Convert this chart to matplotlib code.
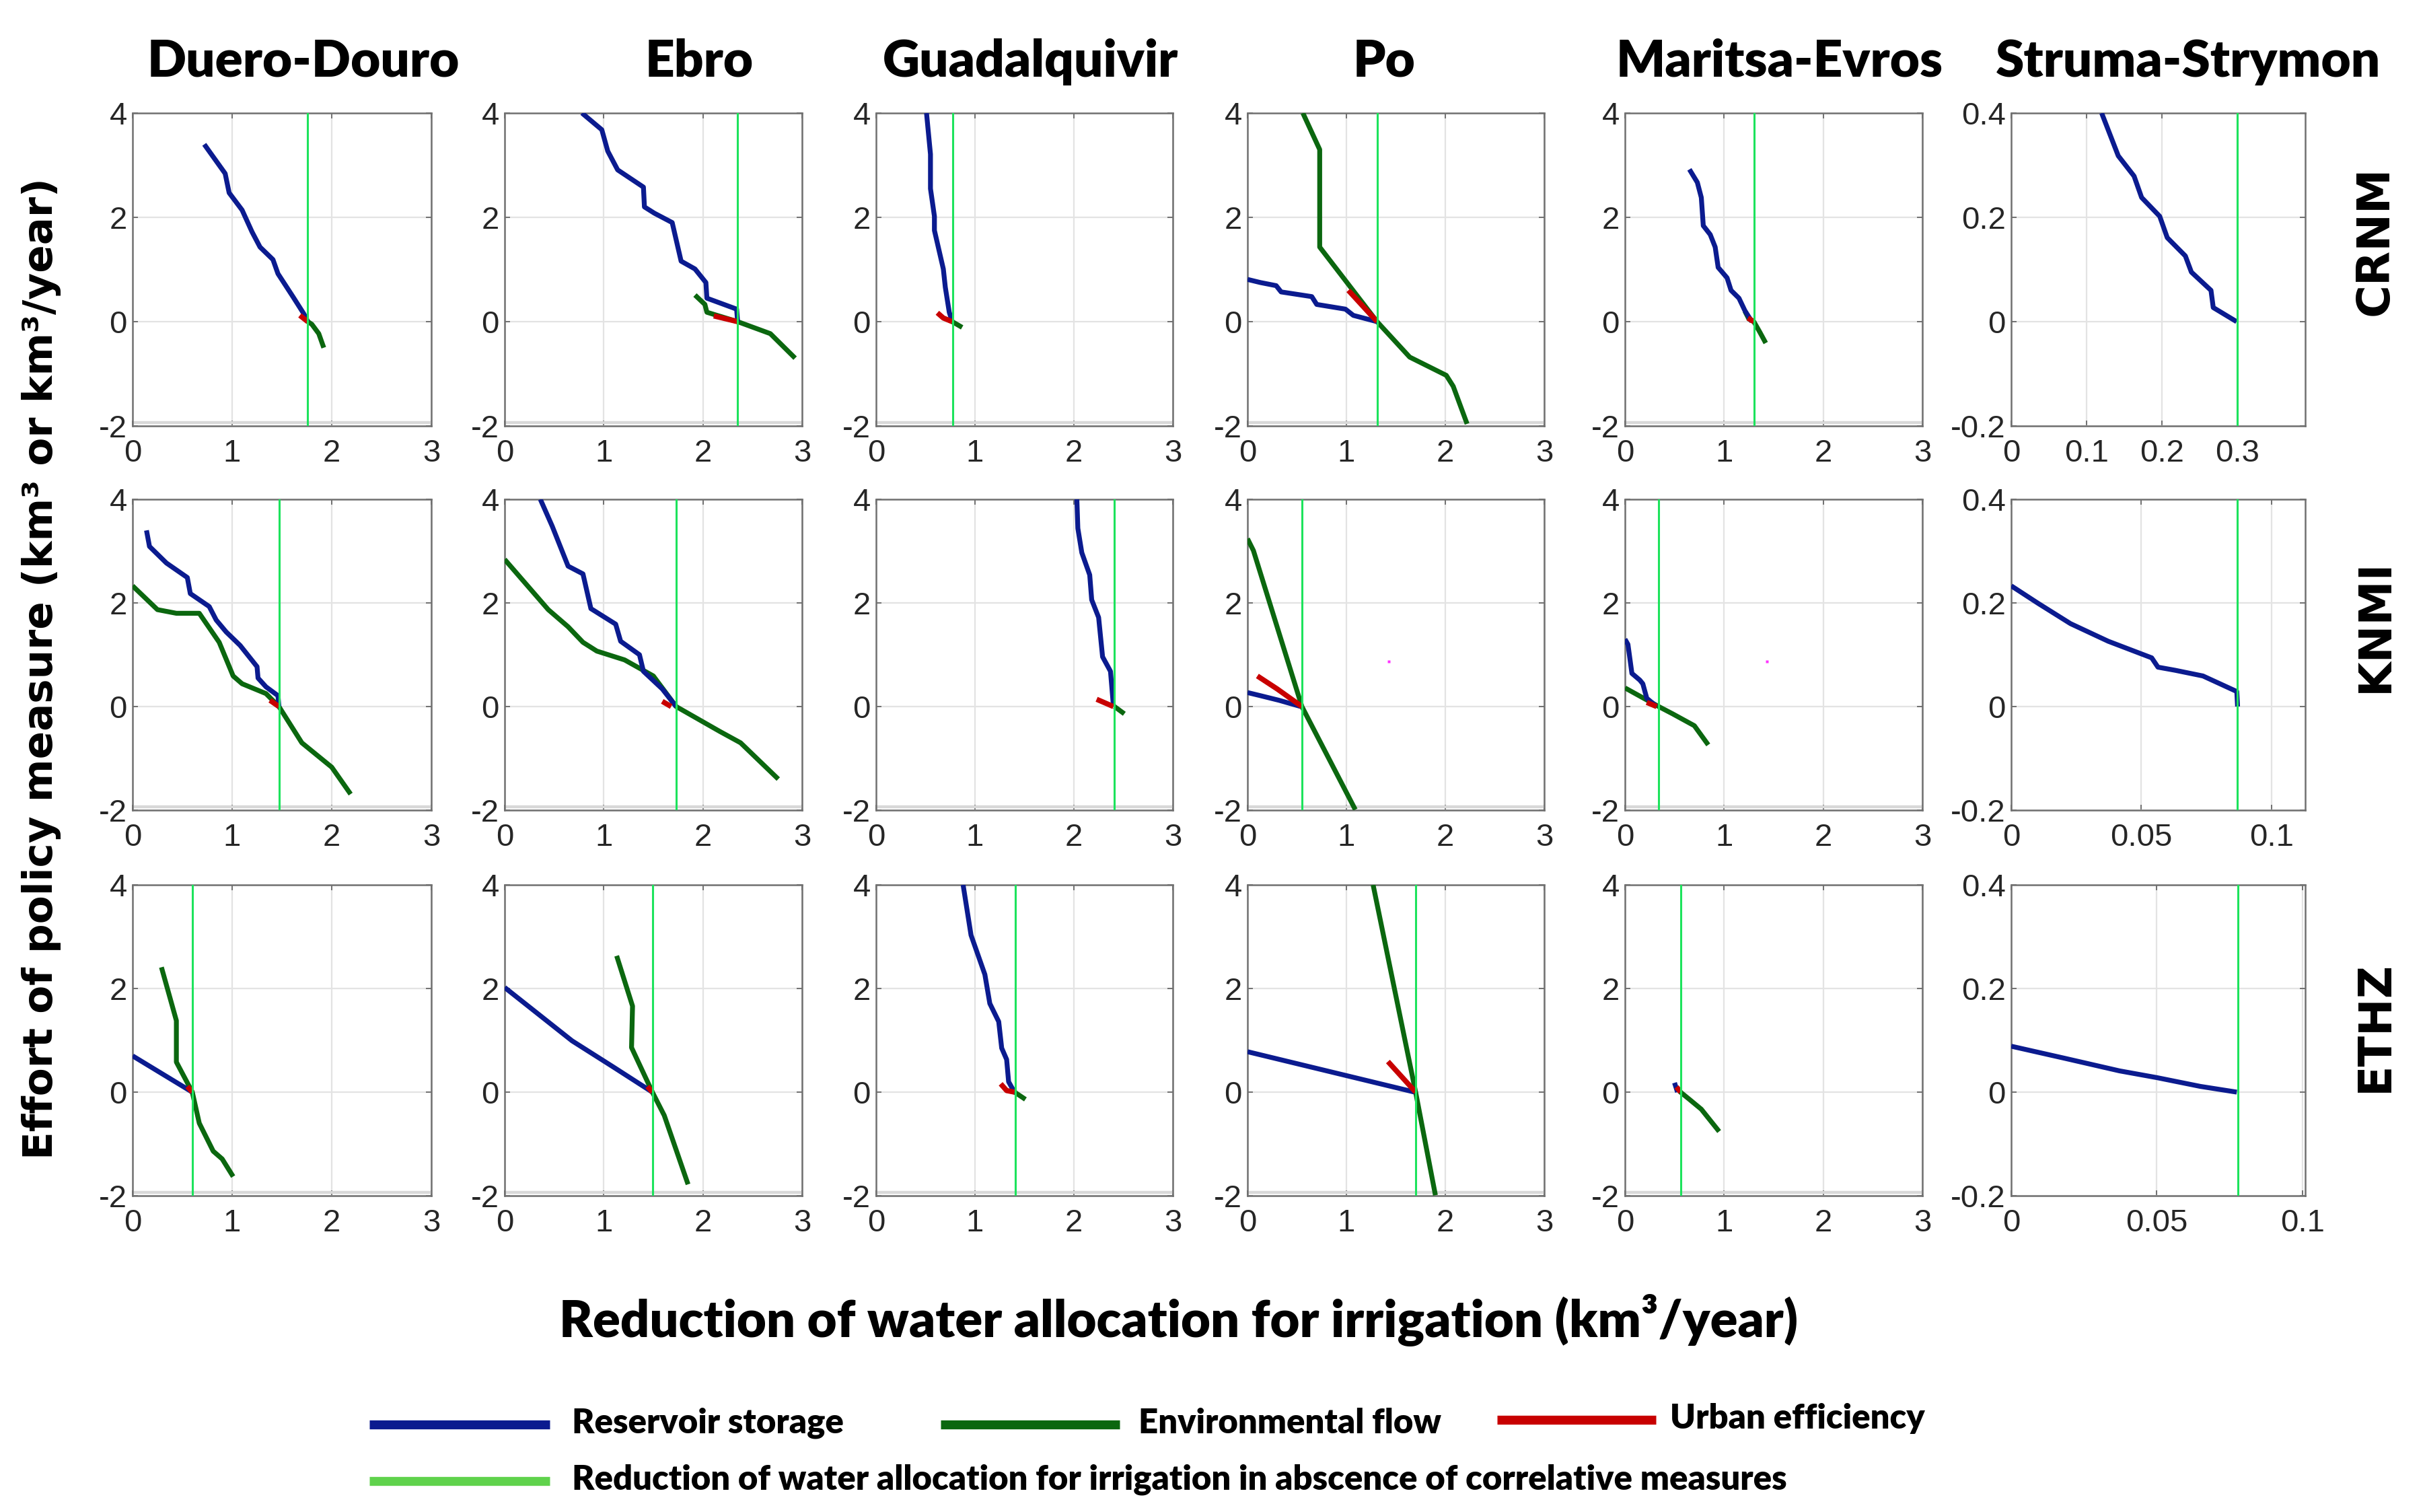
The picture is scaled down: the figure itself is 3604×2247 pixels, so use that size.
import matplotlib
matplotlib.use("Agg")
import matplotlib.pyplot as plt
from matplotlib.lines import Line2D

plt.rcParams['axes.unicode_minus'] = False

# ---------------- DATA ----------------
basins = ["Duero-Douro", "Ebro", "Guadalquivir", "Po", "Maritsa-Evros", "Struma-Strymon"]
models = ["CRNM", "KNMI", "ETHZ"]

# thresholds (reduction without correlative measures)
thr_crnm = [1.76, 2.35, 0.776, 1.31, 1.30, 0.30]
thr_knmi = [1.47, 1.73, 2.41, 0.55, 0.34, 0.087]
thr_ethz = [0.60, 1.49, 1.41, 1.70, 0.56, 0.078]

# ---- CRNM ----
duero_crnm_res_x = [0.72, 0.93, 0.97, 1.10, 1.20, 1.28, 1.41, 1.46, 1.61, 1.72, 1.76]
duero_crnm_res_y = [3.40, 2.84, 2.47, 2.14, 1.72, 1.43, 1.19, 0.92, 0.48, 0.15, 0.0]
duero_crnm_env_x = [1.72, 1.76, 1.80, 1.87, 1.92]
duero_crnm_env_y = [0.12, 0.0, -0.05, -0.23, -0.50]
duero_crnm_urb_x = [1.68, 1.76]
duero_crnm_urb_y = [0.12, 0.0]

ebro_crnm_res_x = [0.78, 0.98, 1.04, 1.14, 1.40, 1.41, 1.51, 1.69, 1.78, 1.92, 2.03, 2.04, 2.34, 2.35]
ebro_crnm_res_y = [4.0, 3.68, 3.27, 2.91, 2.58, 2.20, 2.08, 1.90, 1.16, 1.01, 0.75, 0.45, 0.24, 0.0]
ebro_crnm_env_x = [1.92, 2.02, 2.04, 2.35, 2.68, 2.93]
ebro_crnm_env_y = [0.51, 0.33, 0.18, 0.0, -0.23, -0.70]
ebro_crnm_urb_x = [2.11, 2.35]
ebro_crnm_urb_y = [0.11, 0.0]

guad_crnm_res_x = [0.51, 0.55, 0.55, 0.59, 0.59, 0.68, 0.70, 0.74, 0.77]
guad_crnm_res_y = [4.0, 3.21, 2.55, 2.02, 1.75, 1.01, 0.66, 0.18, 0.0]
guad_crnm_env_x = [0.77, 0.87]
guad_crnm_env_y = [0.0, -0.11]
guad_crnm_urb_x = [0.62, 0.68, 0.77]
guad_crnm_urb_y = [0.17, 0.07, 0.0]

po_crnm_res_x = [0.0, 0.13, 0.29, 0.34, 0.65, 0.70, 0.99, 1.07, 1.31]
po_crnm_res_y = [0.81, 0.75, 0.69, 0.57, 0.48, 0.33, 0.24, 0.12, 0.0]
po_crnm_env_x = [0.56, 0.73, 0.73, 1.31, 1.64, 2.01, 2.08, 2.22]
po_crnm_env_y = [4.0, 3.30, 1.43, 0.0, -0.68, -1.03, -1.24, -1.96]
po_crnm_urb_x = [1.02, 1.31]
po_crnm_urb_y = [0.60, 0.0]

mar_crnm_res_x = [0.65, 0.73, 0.77, 0.79, 0.86, 0.91, 0.94, 1.03, 1.07, 1.15, 1.21, 1.28]
mar_crnm_res_y = [2.92, 2.67, 2.38, 1.84, 1.67, 1.43, 1.04, 0.84, 0.60, 0.45, 0.21, 0.0]
mar_crnm_env_x = [1.21, 1.25, 1.30, 1.36, 1.42]
mar_crnm_env_y = [0.20, 0.05, 0.0, -0.20, -0.41]
mar_crnm_urb_x = [1.24, 1.30]
mar_crnm_urb_y = [0.07, 0.0]

str_crnm_res_x = [0.120, 0.142, 0.163, 0.173, 0.197, 0.207, 0.231, 0.239, 0.265, 0.268, 0.299]
str_crnm_res_y = [0.40, 0.318, 0.279, 0.238, 0.202, 0.161, 0.126, 0.095, 0.060, 0.027, 0.0]

# ---- KNMI ----
duero_knmi_res_x = [0.14, 0.17, 0.34, 0.55, 0.58, 0.77, 0.84, 0.94, 1.08, 1.25, 1.26, 1.34, 1.46, 1.47]
duero_knmi_res_y = [3.40, 3.09, 2.77, 2.49, 2.18, 1.93, 1.67, 1.44, 1.18, 0.77, 0.55, 0.38, 0.21, 0.0]
duero_knmi_env_x = [0.0, 0.25, 0.44, 0.67, 0.87, 1.01, 1.10, 1.34, 1.47, 1.70, 2.00, 2.19]
duero_knmi_env_y = [2.33, 1.87, 1.80, 1.80, 1.24, 0.59, 0.44, 0.25, 0.0, -0.70, -1.17, -1.69]
duero_knmi_urb_x = [1.38, 1.47]
duero_knmi_urb_y = [0.12, 0.0]

ebro_knmi_res_x = [0.36, 0.48, 0.64, 0.79, 0.87, 1.12, 1.17, 1.36, 1.40, 1.59, 1.73]
ebro_knmi_res_y = [4.0, 3.48, 2.71, 2.56, 1.89, 1.59, 1.26, 1.00, 0.68, 0.34, 0.0]
ebro_knmi_env_x = [0.0, 0.44, 0.64, 0.79, 0.93, 1.21, 1.50, 1.73, 2.17, 2.38, 2.76]
ebro_knmi_env_y = [2.84, 1.87, 1.54, 1.24, 1.07, 0.90, 0.59, 0.0, -0.48, -0.70, -1.40]
ebro_knmi_urb_x = [1.59, 1.68]
ebro_knmi_urb_y = [0.10, 0.0]

guad_knmi_res_x = [2.03, 2.04, 2.08, 2.16, 2.18, 2.25, 2.29, 2.37, 2.40]
guad_knmi_res_y = [4.0, 3.44, 2.97, 2.54, 2.06, 1.72, 0.96, 0.68, 0.0]
guad_knmi_env_x = [2.41, 2.51]
guad_knmi_env_y = [0.0, -0.14]
guad_knmi_urb_x = [2.23, 2.40]
guad_knmi_urb_y = [0.14, 0.0]

po_knmi_res_x = [0.0, 0.13, 0.32, 0.54]
po_knmi_res_y = [0.27, 0.21, 0.12, 0.0]
po_knmi_env_x = [0.0, 0.06, 0.55, 1.09]
po_knmi_env_y = [3.24, 3.01, 0.0, -1.99]
po_knmi_urb_x = [0.10, 0.30, 0.55]
po_knmi_urb_y = [0.59, 0.34, 0.0]

mar_knmi_res_x = [0.0, 0.03, 0.07, 0.15, 0.18, 0.22, 0.32]
mar_knmi_res_y = [1.30, 1.20, 0.64, 0.51, 0.44, 0.16, 0.0]
mar_knmi_env_x = [0.0, 0.34, 0.48, 0.70, 0.84]
mar_knmi_env_y = [0.36, 0.0, -0.14, -0.37, -0.74]
mar_knmi_urb_x = [0.22, 0.32]
mar_knmi_urb_y = [0.08, 0.0]

str_knmi_res_x = [0.0, 0.0104, 0.0228, 0.0373, 0.054, 0.0564, 0.063, 0.0737, 0.0867, 0.087]
str_knmi_res_y = [0.233, 0.199, 0.160, 0.126, 0.094, 0.076, 0.070, 0.059, 0.029, 0.0]

# stray magenta points (Po and Maritsa, KNMI)
stray_x = [1.43]
stray_y = [0.87]

# ---- ETHZ ----
duero_ethz_res_x = [0.0, 0.60]
duero_ethz_res_y = [0.70, 0.0]
duero_ethz_env_x = [0.29, 0.44, 0.44, 0.60, 0.67, 0.81, 0.90, 1.01]
duero_ethz_env_y = [2.41, 1.38, 0.58, 0.0, -0.60, -1.14, -1.29, -1.63]
duero_ethz_urb_x = [0.55, 0.60]
duero_ethz_urb_y = [0.11, 0.0]

ebro_ethz_res_x = [0.0, 0.68, 1.10, 1.49]
ebro_ethz_res_y = [2.02, 0.99, 0.48, 0.0]
ebro_ethz_env_x = [1.13, 1.29, 1.28, 1.49, 1.61, 1.85]
ebro_ethz_env_y = [2.63, 1.66, 0.86, 0.0, -0.45, -1.78]
ebro_ethz_urb_x = [1.44, 1.49]
ebro_ethz_urb_y = [0.11, 0.0]

guad_ethz_res_x = [0.88, 0.96, 1.10, 1.15, 1.24, 1.27, 1.32, 1.34, 1.39, 1.41]
guad_ethz_res_y = [4.0, 3.03, 2.27, 1.71, 1.36, 0.85, 0.63, 0.20, 0.03, 0.0]
guad_ethz_env_x = [1.40, 1.51]
guad_ethz_env_y = [0.0, -0.14]
guad_ethz_urb_x = [1.26, 1.32, 1.40]
guad_ethz_urb_y = [0.16, 0.03, 0.0]

po_ethz_res_x = [0.0, 1.69]
po_ethz_res_y = [0.78, 0.0]
po_ethz_env_x = [1.27, 1.70, 1.90]
po_ethz_env_y = [4.0, 0.0, -1.99]
po_ethz_urb_x = [1.42, 1.70]
po_ethz_urb_y = [0.59, 0.0]

mar_ethz_res_x = [0.50, 0.53]
mar_ethz_res_y = [0.18, 0.0]
mar_ethz_env_x = [0.54, 0.56, 0.65, 0.77, 0.95]
mar_ethz_env_y = [0.05, 0.0, -0.14, -0.33, -0.76]
mar_ethz_urb_x = [0.52, 0.56]
mar_ethz_urb_y = [0.10, 0.0]

str_ethz_res_x = [0.0, 0.0186, 0.0372, 0.05, 0.065, 0.0775]
str_ethz_res_y = [0.0886, 0.065, 0.041, 0.028, 0.011, 0.0]

# axis ticks
big_xticks = [0, 1, 2, 3]
big_xticklabels = ["0", "1", "2", "3"]
big_yticks = [-2, 0, 2, 4]
big_yticklabels = ["-2", "0", "2", "4"]
small_yticks = [-0.2, 0, 0.2, 0.4]
small_yticklabels = ["-0.2", "0", "0.2", "0.4"]
str_crnm_xticks = [0, 0.1, 0.2, 0.3]
str_crnm_xticklabels = ["0", "0.1", "0.2", "0.3"]
str_other_xticks = [0, 0.05, 0.1]
str_other_xticklabels = ["0", "0.05", "0.1"]
str_xmax = [0.39, 0.113, 0.101]

legend_labels = ["Reservoir storage", "Environmental flow", "Urban efficiency",
                 "Reduction of water allocation for irrigation in abscence of correlative measures"]

# ---------------- ASSEMBLY ----------------
panels = {
    ("CRNM", 0): ((duero_crnm_res_x, duero_crnm_res_y), (duero_crnm_env_x, duero_crnm_env_y), (duero_crnm_urb_x, duero_crnm_urb_y)),
    ("CRNM", 1): ((ebro_crnm_res_x, ebro_crnm_res_y), (ebro_crnm_env_x, ebro_crnm_env_y), (ebro_crnm_urb_x, ebro_crnm_urb_y)),
    ("CRNM", 2): ((guad_crnm_res_x, guad_crnm_res_y), (guad_crnm_env_x, guad_crnm_env_y), (guad_crnm_urb_x, guad_crnm_urb_y)),
    ("CRNM", 3): ((po_crnm_res_x, po_crnm_res_y), (po_crnm_env_x, po_crnm_env_y), (po_crnm_urb_x, po_crnm_urb_y)),
    ("CRNM", 4): ((mar_crnm_res_x, mar_crnm_res_y), (mar_crnm_env_x, mar_crnm_env_y), (mar_crnm_urb_x, mar_crnm_urb_y)),
    ("CRNM", 5): ((str_crnm_res_x, str_crnm_res_y), None, None),
    ("KNMI", 0): ((duero_knmi_res_x, duero_knmi_res_y), (duero_knmi_env_x, duero_knmi_env_y), (duero_knmi_urb_x, duero_knmi_urb_y)),
    ("KNMI", 1): ((ebro_knmi_res_x, ebro_knmi_res_y), (ebro_knmi_env_x, ebro_knmi_env_y), (ebro_knmi_urb_x, ebro_knmi_urb_y)),
    ("KNMI", 2): ((guad_knmi_res_x, guad_knmi_res_y), (guad_knmi_env_x, guad_knmi_env_y), (guad_knmi_urb_x, guad_knmi_urb_y)),
    ("KNMI", 3): ((po_knmi_res_x, po_knmi_res_y), (po_knmi_env_x, po_knmi_env_y), (po_knmi_urb_x, po_knmi_urb_y)),
    ("KNMI", 4): ((mar_knmi_res_x, mar_knmi_res_y), (mar_knmi_env_x, mar_knmi_env_y), (mar_knmi_urb_x, mar_knmi_urb_y)),
    ("KNMI", 5): ((str_knmi_res_x, str_knmi_res_y), None, None),
    ("ETHZ", 0): ((duero_ethz_res_x, duero_ethz_res_y), (duero_ethz_env_x, duero_ethz_env_y), (duero_ethz_urb_x, duero_ethz_urb_y)),
    ("ETHZ", 1): ((ebro_ethz_res_x, ebro_ethz_res_y), (ebro_ethz_env_x, ebro_ethz_env_y), (ebro_ethz_urb_x, ebro_ethz_urb_y)),
    ("ETHZ", 2): ((guad_ethz_res_x, guad_ethz_res_y), (guad_ethz_env_x, guad_ethz_env_y), (guad_ethz_urb_x, guad_ethz_urb_y)),
    ("ETHZ", 3): ((po_ethz_res_x, po_ethz_res_y), (po_ethz_env_x, po_ethz_env_y), (po_ethz_urb_x, po_ethz_urb_y)),
    ("ETHZ", 4): ((mar_ethz_res_x, mar_ethz_res_y), (mar_ethz_env_x, mar_ethz_env_y), (mar_ethz_urb_x, mar_ethz_urb_y)),
    ("ETHZ", 5): ((str_ethz_res_x, str_ethz_res_y), None, None),
}
thresholds = {"CRNM": thr_crnm, "KNMI": thr_knmi, "ETHZ": thr_ethz}

# ---------------- STYLE ----------------
C_RES = "#0b1b8f"
C_ENV = "#0b670f"
C_URB = "#c80000"
C_THR = "#1de35c"
C_THR_LEG = "#5fd24c"
TICK_FONT = ["Liberation Sans Narrow", "Liberation Sans", "DejaVu Sans"]
HEAD_FONT = ["Lato", "DejaVu Sans"]

W, H = 3605, 2247
fig = plt.figure(figsize=(W / 200, H / 200), dpi=200)

col_left = [197, 750, 1302, 1854, 2415, 2989]
col_width = [444, 442, 441, 441, 442, 437]
row_top = [168, 742, 1315]
row_bot = [633, 1204, 1777]

for r, model in enumerate(models):
    for c in range(6):
        ax = fig.add_axes([col_left[c] / W, 1 - row_bot[r] / H,
                           col_width[c] / W, (row_bot[r] - row_top[r]) / H])
        res, env, urb = panels[(model, c)]
        thr = thresholds[model][c]
        if c < 5:
            ax.axhline(-1.93, color="#d8d8d8", lw=1.6, zorder=1)
        if env is not None:
            ax.plot(env[0], env[1], color=C_ENV, lw=2.6, zorder=3, solid_capstyle="butt")
        ax.plot(res[0], res[1], color=C_RES, lw=2.6, zorder=4, solid_capstyle="butt")
        if urb is not None:
            ax.plot(urb[0], urb[1], color=C_URB, lw=2.8, zorder=5, solid_capstyle="butt")
        ax.axvline(thr, color=C_THR, lw=1.1, zorder=6)
        if model == "KNMI" and c in (3, 4):
            ax.plot(stray_x, stray_y, ls="none", marker="s", ms=1.2, color="#ff33ff", mec="none", zorder=6)

        if c < 5:
            ax.set_xlim(0, 3)
            ax.set_ylim(-2, 4)
            ax.set_xticks(big_xticks)
            ax.set_xticklabels(big_xticklabels)
            ax.set_yticks(big_yticks)
            ax.set_yticklabels(big_yticklabels)
        else:
            ax.set_xlim(0, str_xmax[r])
            ax.set_ylim(-0.2, 0.4)
            if r == 0:
                ax.set_xticks(str_crnm_xticks)
                ax.set_xticklabels(str_crnm_xticklabels)
            else:
                ax.set_xticks(str_other_xticks)
                ax.set_xticklabels(str_other_xticklabels)
            ax.set_yticks(small_yticks)
            ax.set_yticklabels(small_yticklabels)

        ax.grid(True, color="#e3e3e3", lw=0.8, zorder=0)
        ax.set_axisbelow(True)
        for s in ax.spines.values():
            s.set_color("#707070")
            s.set_linewidth(0.9)
        ax.tick_params(axis="both", direction="in", length=3, width=0.7, color="#707070",
                       top=True, right=True, labelcolor="#262626", labelsize=17)
        ax.tick_params(axis="x", pad=7)
        ax.tick_params(axis="y", pad=3)
        for lab in ax.get_xticklabels() + ax.get_yticklabels():
            lab.set_family(TICK_FONT)

# column titles
title_x = [451, 1039, 1531, 2057, 2645, 3252]
for name, tx in zip(basins, title_x):
    fig.text(tx / W, 1 - 92 / H, name, ha="center", va="center", fontsize=27.5,
             fontweight="heavy", family=HEAD_FONT)

# row labels
row_label_y = [358, 930, 1525]
for name, ty in zip(models, row_label_y):
    fig.text(3530 / W, 1 - ty / H, name, ha="center", va="center", rotation=90,
             fontsize=24, fontweight="bold", family=["DejaVu Sans"])

# axis labels
fig.text(62 / W, 1 - 994 / H, "Effort of policy measure (km³ or km³/year)",
         ha="center", va="center", rotation=90, fontsize=22, fontweight="bold",
         family=["DejaVu Sans"])
fig.text(1752 / W, 1 - 1962 / H, "Reduction of water allocation for irrigation (km³/year)",
         ha="center", va="center", fontsize=27.3, fontweight="heavy", family=HEAD_FONT)

# legend
leg_items = [
    (549, 817, 2117, C_RES, 850, legend_labels[0]),
    (1398, 1664, 2117, C_ENV, 1692, legend_labels[1]),
    (2225, 2461, 2110, C_URB, 2482, legend_labels[2]),
    (549, 817, 2201, C_THR_LEG, 850, legend_labels[3]),
]
for x0, x1, yy, col, tx, lab in leg_items:
    fig.add_artist(Line2D([x0 / W, x1 / W], [1 - yy / H, 1 - yy / H], transform=fig.transFigure,
                          color=col, lw=4.8, solid_capstyle="butt"))
    fig.text(tx / W, 1 - (yy - 2) / H, lab, ha="left", va="center", fontsize=18.3,
             fontweight="heavy", family=HEAD_FONT)

fig.savefig("out.png", dpi=200, facecolor="white")
